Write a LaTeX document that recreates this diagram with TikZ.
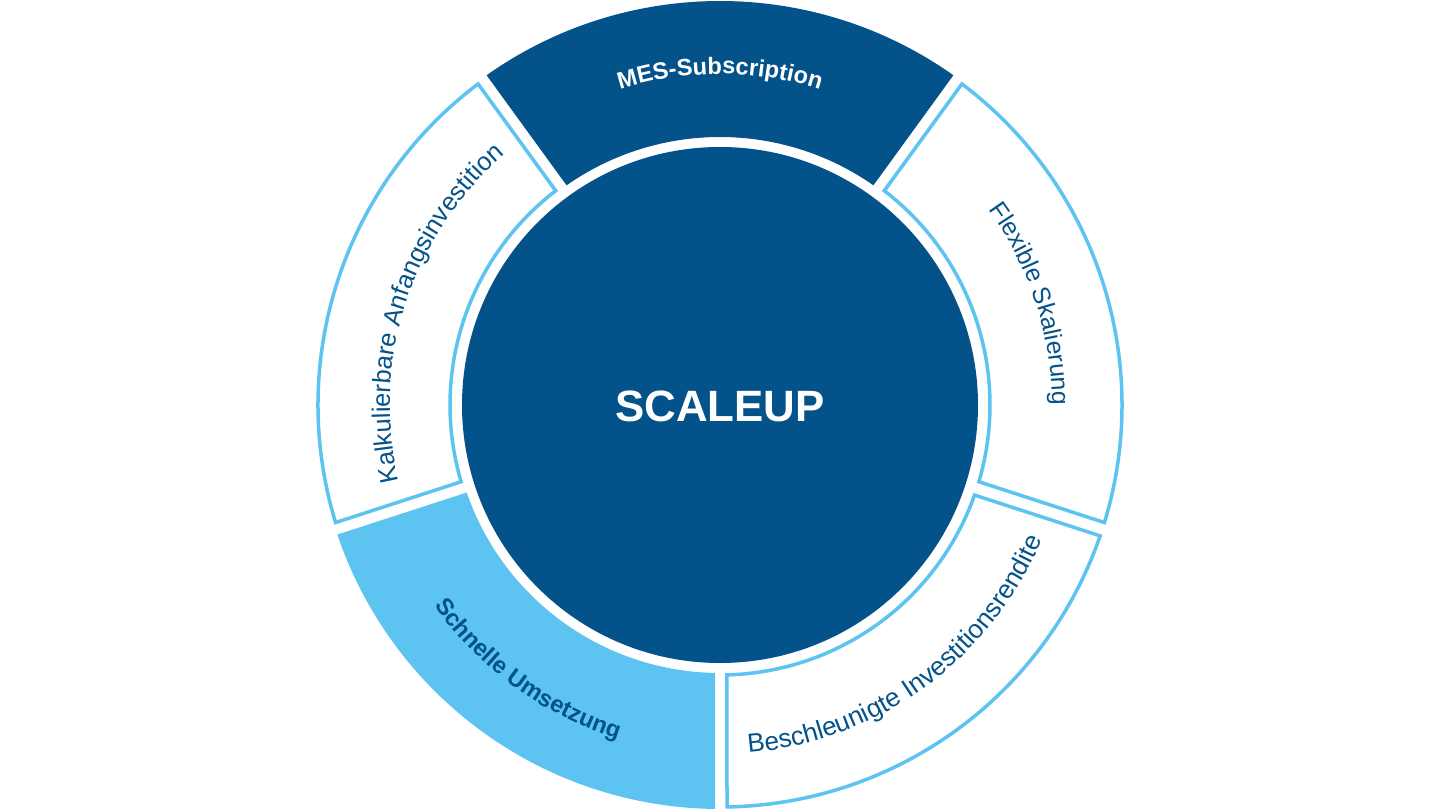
\documentclass[tikz,border=0pt]{standalone}
\usepackage{fontspec}
\setmainfont{Liberation Sans}
\usetikzlibrary{decorations.text}
\definecolor{dblue}{RGB}{3,83,138}
\definecolor{lblue}{RGB}{93,196,242}
\newcommand\lblfont{\fontsize{25.5}{30}\selectfont}
\newcommand\lblfontS{\fontsize{24.8}{30}\selectfont}
\newcommand\lblfontL{\fontsize{26.2}{30}\selectfont}
\newcommand\lblbold{\fontsize{23.7}{28}\selectfont\bfseries}
\tikzset{
  seg/.style n args={5}{insert path={
    ({#1+asin(#5/#3)}:#3bp) arc[start angle={#1+asin(#5/#3)}, end angle={#2-asin(#5/#3)}, radius=#3bp]
    -- ({#2-asin(#5/#4)}:#4bp) arc[start angle={#2-asin(#5/#4)}, end angle={#1+asin(#5/#4)}, radius=#4bp] -- cycle}},
  filledseg/.style={fill=#1, draw=none},
  outlineseg/.style={fill=white, draw=lblue, line width=3.5bp, line join=miter},
  arctext/.style n args={2}{decorate, decoration={text along path, text align=center, text color=#1, text={#2}}}
}
\begin{document}
\begin{tikzpicture}[x=1bp,y=1bp]
\useasboundingbox[fill=white] (-720,-405) rectangle (720,405);
% ring segments
\path[filledseg=dblue, seg={54}{126}{404}{268}{5}];
\path[outlineseg, seg={126}{198}{402}{270}{7}];
\path[filledseg=lblue, seg={198}{270}{404}{268}{5}];
\path[outlineseg, seg={270}{342}{402}{270}{7}];
\path[outlineseg, seg={-18}{54}{402}{270}{7}];
% centre
\fill[dblue] (0,0) circle[radius=258bp];
\node[font=\fontsize{44}{50}\selectfont\bfseries, text=white] (core) at (0,-1) {SCALEUP};
% labels
\path[arctext={white}{|\lblbold|MES-Subscription}] (126:331bp) arc[start angle=126, end angle=54, radius=331bp];
\path[arctext={dblue}{|\lblfont|Kalkulierbare Anfangsinvestition}] (198:330bp) arc[start angle=198, end angle=126, radius=330bp];
\path[arctext={dblue}{|\lblfontS|Flexible Skalierung}] (54:332bp) arc[start angle=54, end angle=-18, radius=332bp];
\path[arctext={dblue}{|\lblbold|Schnelle Umsetzung}] (198:349bp) arc[start angle=198, end angle=270, radius=349bp];
\path[arctext={dblue}{|\lblfontL|Beschleunigte Investitionsrendite}] (270:349bp) arc[start angle=270, end angle=342, radius=349bp];
\end{tikzpicture}
\end{document}
